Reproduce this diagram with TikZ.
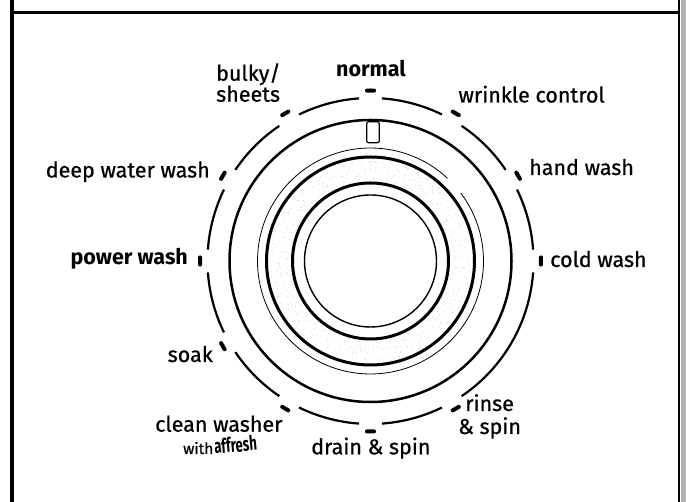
\documentclass[tikz,border=0pt]{standalone}
\usepackage{fontspec}
\setmainfont{Fira Sans}
\newfontfamily\lblfont{Fira Sans}[FakeBold=0.7]
\usepackage{graphicx}
\begin{document}
\begin{tikzpicture}[x=1pt,y=1pt,
  lbl/.style={inner sep=0pt, font=\lblfont\fontsize{21.5}{23}\selectfont},
  blbl/.style={inner sep=0pt, font=\fontsize{21.5}{23}\selectfont\bfseries},
  dialtick/.style={line width=4pt, line cap=round},
  outerarc/.style={line width=2.2pt},
]
\useasboundingbox (0,0) rectangle (686,502);
\coordinate (C) at (370.5,241);
% frame
\draw[line width=4pt] (11.5,0) -- (11.5,502);
\fill[gray!60] (681,0) rectangle (686,502);
\draw[line width=2.5pt] (679,0) -- (679,502);
\draw[line width=3pt] (11.5,489.3) -- (679,489.3);
% stipple
\pgfmathsetseed{7}
\foreach \i in {1,...,700} {
  \pgfmathsetmacro\aa{360*rnd}
  \pgfmathsetmacro\rr{80+23*rnd}
  \fill[gray!40] (C) ++(\aa:\rr) circle (0.45);
}
% outer dashed arc
\foreach \a/\b in {-90/-60,-60/0,0/30,30/60,60/90,90/120,120/150,150/180,180/210,210/240,240/270}
  \draw[outerarc] (C) ++(\a+4:163) arc[start angle=\a+4, end angle=\b-4, radius=163];
% ticks
\foreach \t in {-90,-60,0,30,60,90,120,150,180,210,240}
  \draw[dialtick] (C) ++(\t-1.2:170.5) arc[start angle=\t-1.2, end angle=\t+1.2, radius=170.5];
% rings
\draw[line width=2.5pt] (C) circle (141);
\draw[line width=0.8pt] (C) ++(47:113) arc[start angle=47, end angle=397, radius=113];
\draw[line width=3pt] (C) circle (104);
\draw[line width=3pt] (C) circle (78);
\draw[line width=1.4pt] (C) circle (66);
% window
\draw[line width=1.2pt, rounded corners=2pt] (366.7,359.3) rectangle (379.3,380.3);
% labels
\node[blbl, anchor=base] (normal) at (371,425.3) {normal};
\node[lbl, anchor=base west] (bulky) at (216,421.3) {bulky/};
\node[lbl, anchor=base west] (sheets) at (216,400.3) {sheets};
\node[lbl, anchor=base west] (wrinkle) at (458.3,399.5) {wrinkle control};
\node[lbl, anchor=base west] (hand) at (529,327) {hand wash};
\node[lbl, anchor=base west] (cold) at (550,235) {cold wash};
\node[lbl, anchor=base east] (deep) at (210,324.5) {deep water wash};
\node[blbl, anchor=base east] (power) at (188,237) {power wash};
\node[lbl, anchor=base east] (soak) at (213,140) {soak};
\node[lbl, anchor=base west] (clean) at (155,70.3) {clean washer};
\node[inner sep=0pt, anchor=base west, font=\lblfont\fontsize{15.5}{15.5}\selectfont] (with) at (183,48) {with};
\node[inner sep=0pt, anchor=base west, rotate=5] (affresh) at ([xshift=1pt]with.base east) {\scalebox{0.66}[1]{\fontsize{20}{20}\selectfont\bfseries affresh}};
\node[lbl, anchor=base west] (drain) at (311,47.7) {drain \& spin};
\node[lbl, anchor=base west] (rinse) at (465,91) {rinse};
\node[lbl, anchor=base west] (rspin) at (458,68) {\& spin};
\end{tikzpicture}
\end{document}
